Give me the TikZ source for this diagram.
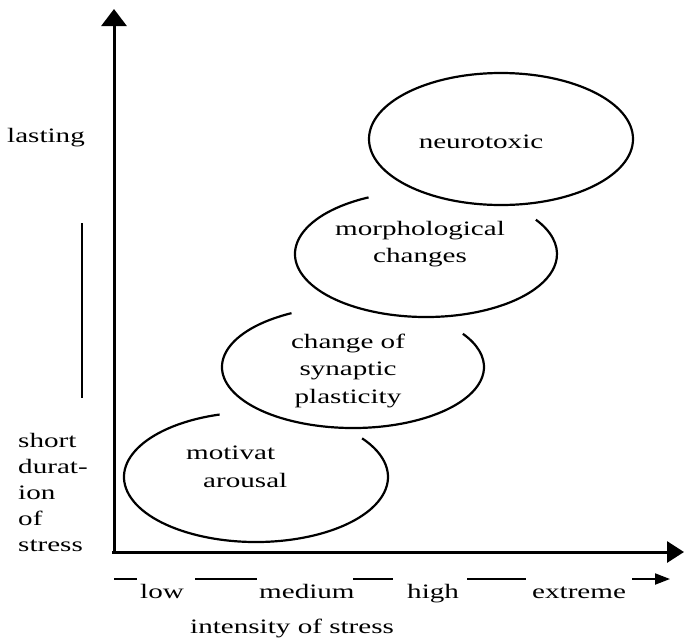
\documentclass[tikz,border=0pt]{standalone}
\usepackage{fontspec}
\setmainfont{Liberation Serif}[FakeStretch=1.42]
\usetikzlibrary{arrows.meta}
\begin{document}
\begin{tikzpicture}[x=1pt,y=-1pt,
  lbl/.style={inner sep=0pt, font=\fontsize{20.5}{26.5}\selectfont},
  axis/.style={line width=3pt},
  blob/.style={line width=2.2pt},
  tickline/.style={line width=2pt}]
\useasboundingbox (0,0) rectangle (684,643);
% axes
\coordinate (O) at (114,553.5);
\coordinate (Otop) at (114,9);
\coordinate (Ox) at (112,552);
\coordinate (Xend) at (684,552);
\draw[axis, -{Triangle[length=17pt,width=25pt]}] (O) -- (Otop);
\draw[axis, -{Triangle[length=17pt,width=21pt]}] (Ox) -- (Xend);
% ellipses
\coordinate (c1) at (256,477);
\coordinate (c2) at (353,367);
\coordinate (c3) at (426,254);
\coordinate (c4) at (501,139);
\draw[blob] (c1) ++(-106:132 and 65) arc[start angle=-106, end angle=-396.5, x radius=132, y radius=65];
\draw[blob] (c2) ++(-118:131 and 61) arc[start angle=-118, end angle=-393, x radius=131, y radius=61];
\draw[blob] (c3) ++(-116:131 and 63) arc[start angle=-116, end angle=-393, x radius=131, y radius=63];
\draw[blob] (c4) ellipse[x radius=132, y radius=66];
% ellipse labels (base anchor = baseline of last line)
\node[lbl, anchor=base] (neuro) at (481,148) {neurotoxic};
\node[lbl, anchor=base, align=center, font=\fontsize{20.5}{27}\selectfont] (morph) at (420,262) {morphological\\changes};
\node[lbl, anchor=base, align=center, font=\fontsize{20.5}{27.5}\selectfont] (syn) at (348,403) {change of\\synaptic\\plasticity};
\node[lbl, anchor=base west] (mot1) at (186,459) {motivat};
\node[lbl, anchor=base west] (mot2) at (203,487) {arousal};
% vertical axis labels
\node[lbl, anchor=base west] (lasting) at (7,142) {lasting};
\node[lbl, anchor=base west, align=left, font=\fontsize{20.5}{26}\selectfont] (short) at (18,551) {short\\durat-\\ion\\of\\stress};
\coordinate (bt) at (82,223);
\coordinate (bb) at (82,398);
\draw[line width=2.7pt] (bt) -- (bb);
% horizontal axis labels
\node[lbl, anchor=base west] (low) at (140,598) {low};
\node[lbl, anchor=base west] (med) at (259,598) {medium};
\node[lbl, anchor=base west] (high) at (407,598) {high};
\node[lbl, anchor=base west] (ext) at (532,598) {extreme};
\node[lbl, anchor=base west] (int) at (190,633) {intensity of stress};
\coordinate (d1a) at (114,579); \coordinate (d1b) at (137,579);
\coordinate (d2a) at (195,579); \coordinate (d2b) at (257,579);
\coordinate (d3a) at (353,579); \coordinate (d3b) at (393,579);
\coordinate (d4a) at (467,579); \coordinate (d4b) at (526,579);
\coordinate (d5a) at (632,579); \coordinate (d5b) at (670,579);
\draw[tickline] (d1a) -- (d1b);
\draw[tickline] (d2a) -- (d2b);
\draw[tickline] (d3a) -- (d3b);
\draw[tickline] (d4a) -- (d4b);
\draw[tickline, -{Triangle[length=15pt,width=11pt]}] (d5a) -- (d5b);
\end{tikzpicture}
\end{document}
